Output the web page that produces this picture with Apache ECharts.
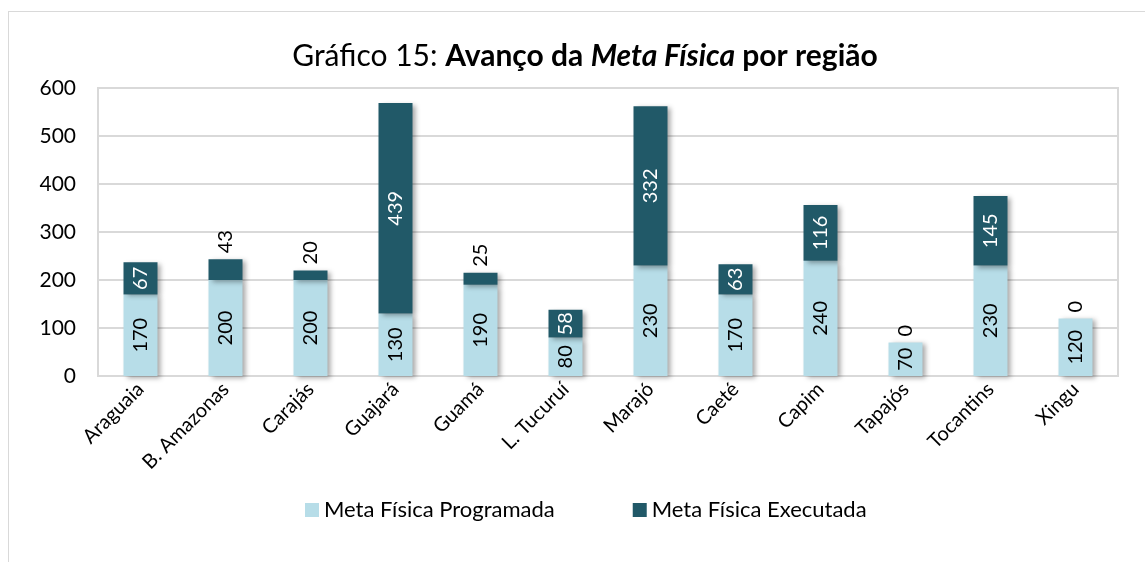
<!DOCTYPE html>
<html>
<head>
<meta charset="utf-8">
<script src="https://cdn.jsdelivr.net/npm/echarts@6/dist/echarts.min.js"></script>
<style>
  html, body { margin: 0; padding: 0; background: #fff; }
  #frame { position: absolute; left: 8px; top: 11px; width: 1200px; height: 600px; border: 1px solid #d9d9d9; box-sizing: border-box; }
  #chart { position: absolute; left: 0; top: 0; width: 1145px; height: 562px; }
</style>
</head>
<body>
<div id="frame"></div>
<div id="chart"></div>
<script>
const regions = ['Araguaia', 'B. Amazonas', 'Carajás', 'Guajará', 'Guamá', 'L. Tucuruí', 'Marajó', 'Caeté', 'Capim', 'Tapajós', 'Tocantins', 'Xingu']
const programada = [170, 200, 200, 130, 190, 80, 230, 170, 240, 70, 230, 120]
const executada = [67, 43, 20, 439, 25, 58, 332, 63, 116, 0, 145, 0]
const yTicks = [0, 100, 200, 300, 400, 500, 600]

const LIGHT = '#b7dde8'
const DARK = '#215968'
const FONT = 'Lato'

const chart = echarts.init(document.getElementById('chart'))

const barShadow = { shadowBlur: 5, shadowOffsetX: 3, shadowOffsetY: 2, shadowColor: 'rgba(0,0,0,0.35)' }

chart.setOption({
  textStyle: { fontFamily: FONT },
  title: {
    left: 580,
    textAlign: 'center',
    top: 36,
    text: '{r|Gráfico 15: }{b|Avanço da }{bi|Meta Física}{b| por região}',
    textStyle: {
      fontWeight: 'normal',
      rich: {
        r: { fontSize: 30, color: '#000', fontWeight: 'normal', fontFamily: FONT },
        b: { fontSize: 30, color: '#000', fontWeight: 'bold', fontFamily: FONT },
        bi: { fontSize: 30, color: '#000', fontWeight: 'bold', fontStyle: 'italic', fontFamily: FONT },
      },
    },
  },
  legend: {
    top: 494,
    left: 300,
    itemWidth: 14,
    itemHeight: 14,
    itemGap: 78,
    icon: 'rect',
    textStyle: { fontSize: 22, color: '#000', padding: [0, 0, 0, 0] },
    data: ['Meta Física Programada', 'Meta Física Executada'],
  },
  grid: { left: 98, right: 27, top: 88, bottom: 186, show: true, borderColor: '#d9d9d9', borderWidth: 2, containLabel: false },
  xAxis: {
    type: 'category',
    data: regions,
    axisTick: { show: false },
    axisLine: { lineStyle: { color: '#d9d9d9', width: 2 } },
    axisLabel: { rotate: 45, fontSize: 20, color: '#000', margin: 10, interval: 0 },
  },
  yAxis: {
    type: 'value',
    min: yTicks[0],
    max: yTicks[yTicks.length - 1],
    interval: 100,
    axisLine: { show: true, lineStyle: { color: '#d9d9d9', width: 2 } },
    splitLine: { lineStyle: { color: '#d9d9d9', width: 2 } },
    axisLabel: { fontSize: 21, color: '#000', margin: 22 },
  },
  series: [
    {
      name: 'Meta Física Programada',
      type: 'bar',
      stack: 'meta',
      barWidth: '40%',
      itemStyle: Object.assign({ color: LIGHT }, barShadow),
      label: { show: true, position: 'inside', rotate: 90, fontSize: 20, color: '#000' },
      data: programada,
    },
    {
      name: 'Meta Física Executada',
      type: 'bar',
      stack: 'meta',
      itemStyle: Object.assign({ color: DARK }, barShadow),
      label: { show: true, position: 'inside', rotate: 90, fontSize: 20, color: '#fff' },
      data: executada.map((v) => v < 50
        ? { value: v, label: { position: 'top', color: '#000', align: 'left', verticalAlign: 'middle', distance: 6 } }
        : v),
    },
  ],
})
</script>
</body>
</html>
